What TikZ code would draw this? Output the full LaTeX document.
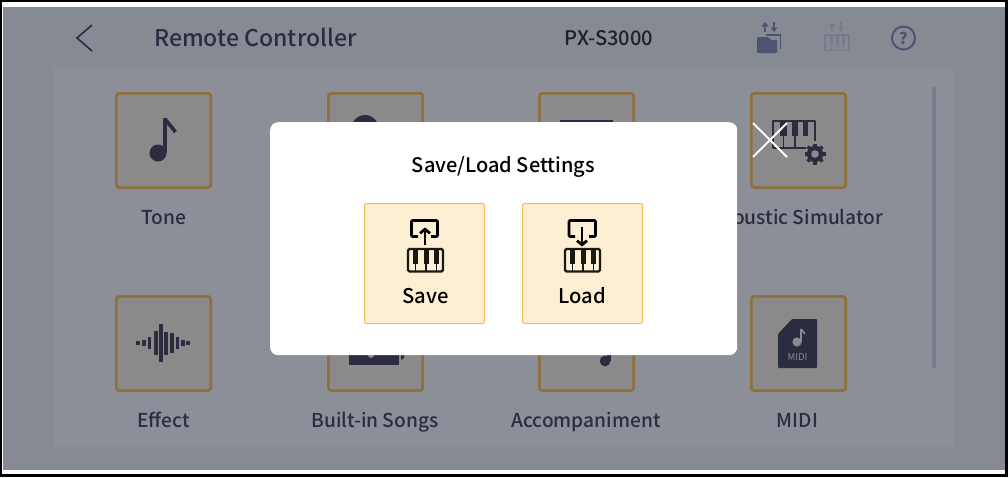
\documentclass[tikz,border=0pt]{standalone}
\usepackage{fontspec}
\setmainfont{Noto Sans CJK JP}
\newfontfamily\medfont{Noto Sans CJK JP Medium}
\definecolor{outerbg}{HTML}{868A93}
\definecolor{panelbg}{HTML}{8C8F98}
\definecolor{tilebg}{HTML}{8B8989}
\definecolor{tileline}{HTML}{8F6F3B}
\definecolor{ink}{HTML}{2B2C40}
\definecolor{hdrink}{HTML}{1F2029}
\definecolor{slate}{HTML}{4E546F}
\definecolor{faded}{HTML}{787C8A}
\definecolor{btnbg}{HTML}{FDEFD3}
\definecolor{btnline}{HTML}{FDB84E}
\usetikzlibrary{arrows.meta}
\tikzset{
  x=1pt,y=-1pt,
  tile/.style={draw=tileline,fill=tilebg,line width=2.6pt,rounded corners=3pt,minimum size=94.4pt,inner sep=0pt,anchor=north west},
  lbl/.style={text=ink,font=\medfont\fontsize{19.15}{21}\selectfont,inner sep=0pt,anchor=base},
  btn/.style={draw=btnline,fill=btnbg,line width=1pt,rounded corners=2pt,minimum size=120pt,inner sep=0pt,anchor=north west},
  btnlbl/.style={text=black,font=\medfont\fontsize{20.2}{22}\selectfont,inner sep=0pt,anchor=base},
  arrowup/.style={-{Triangle[length=4.5pt,width=7pt]}}
}
% piano: #1 left, #2 top, #3 colour
\newcommand{\pianoicon}[3]{%
  \begin{scope}[shift={(#1,#2)}]
    \fill[#3] (5,0) rectangle (10,14.5);
    \fill[#3] (15.5,0) rectangle (20.5,14.5);
    \fill[#3] (26,0) rectangle (31,14.5);
    \draw[#3,line width=1.6pt] (7.5,14) -- (7.5,23);
    \draw[#3,line width=1.6pt] (18,14) -- (18,23);
    \draw[#3,line width=1.6pt] (28.5,14) -- (28.5,23);
    \draw[#3,line width=2.4pt,rounded corners=1.5pt] (0,0) rectangle (35,22.5);
  \end{scope}}
\begin{document}
\begin{tikzpicture}
\useasboundingbox (0,0) rectangle (1008,477);
\fill[black] (0,0) rectangle (1008,477);
\fill[white] (2,2) rectangle (1005,474);
\fill[outerbg] (3,7) rectangle (1005,470);
\fill[panelbg] (54,68) rectangle (953,447);
% header
\coordinate (bk1) at (92,25); \coordinate (bk2) at (77,38); \coordinate (bk3) at (92,51);
\draw[ink,line width=1.6pt] (bk1) -- (bk2) -- (bk3);
\node[anchor=base west,inner sep=0pt,text=ink,font=\medfont\fontsize{23.05}{25}\selectfont] (title) at (154,46.5) {Remote Controller};
\node[anchor=base,inner sep=0pt,text=hdrink,font=\medfont\fontsize{20.1}{22}\selectfont] (model) at (609,45.5) {PX-S3000};
% folder icon
\draw[slate,line width=2pt,arrowup] (765,32) -- (765,22);
\draw[slate,line width=2pt,arrowup] (774,22) -- (774,32);
\fill[slate,rounded corners=1pt] (757,37) -- (768,37) -- (771,40) -- (777,40) -- (777,53) -- (757,53) -- cycle;
\draw[slate,line width=1.6pt] (766,35) -- (780.5,35) -- (780.5,49);
% faded piano
\draw[faded,line width=2pt,arrowup] (832,32) -- (832,22);
\draw[faded,line width=2pt,arrowup] (841,22) -- (841,32);
\begin{scope}[shift={(825,35)}]
  \fill[faded] (5,0) rectangle (8,10);
  \fill[faded] (11,0) rectangle (14,10);
  \fill[faded] (17,0) rectangle (20,10);
  \draw[faded,line width=1pt] (6.5,10) -- (6.5,15) (12.5,10) -- (12.5,15) (18.5,10) -- (18.5,15);
  \draw[faded,line width=1.6pt] (0,0) rectangle (24,15.5);
\end{scope}
% help icon
\node[circle,draw=slate,line width=2pt,minimum size=23pt,inner sep=0pt,text=slate,font=\fontsize{16}{16}\selectfont\bfseries] (help) at (903.5,38) {?};
% scrollbar
\fill[faded,rounded corners=1pt] (932,87) rectangle (936,368);
% tiles
\node[tile] (t1) at (115,92) {};
\node[tile] (t2) at (327,92) {};
\node[tile] (t3) at (538,92) {};
\node[tile] (t4) at (750,92) {};
\node[tile] (t5) at (115,295) {};
\node[tile] (t6) at (327,295) {};
\node[tile] (t7) at (538,295) {};
\node[tile] (t8) at (750,295) {};
% labels
\node[lbl] (l1) at (163.5,224) {Tone};
\node[lbl] (l4) at (797.5,224) {Acoustic Simulator};
\node[lbl] (l5) at (163.5,427) {Effect};
\node[lbl] (l6) at (375,427) {Built-in Songs};
\node[lbl] (l7) at (586,427) {Accompaniment};
\node[lbl] (l8) at (797.5,427) {MIDI};
% tone note
\fill[ink] (158,153) circle (8.5);
\fill[ink] (162.5,118) rectangle (166.5,153);
\draw[ink,line width=3.6pt] (165,119) -- (175.5,132);
% hidden icons
\fill[ink] (365,129) circle (14);
\fill[ink] (560,120) rectangle (613,135);
\fill[ink] (349,345) -- (399,345) -- (399,365) -- (349,365) -- cycle;
\fill[ink] (401,345) -- (405,345) -- (404,358) -- (401,360) -- cycle;
\fill[tilebg] (371,355) circle (3);
\fill[ink] (605,361) circle (5.3);
\fill[ink] (607,345) rectangle (610.5,361);
% waveform
\foreach \xa/\xb/\h in {136/140/1.8,142/146/2.8,147.5/151/6.3,153.5/157.5/12,159/163/19,164/168/11.5,170/174/10,175.5/179/6,181/185/2.8,186/190/1.8}
  \fill[ink] (\xa,343-\h) rectangle (\xb,343+\h);
% piano gear
\begin{scope}[shift={(773,121)}]
  \fill[ink] (7,0) rectangle (14,15);
  \fill[ink] (19,0) rectangle (25,15);
  \fill[ink] (30,0) rectangle (35,15);
  \draw[ink,line width=1.4pt] (10.5,15) -- (10.5,27) (22,15) -- (22,27);
  \draw[ink,line width=2pt,line join=round] (33,27) -- (0,27) -- (0,0) -- (42,0) -- (42,20);
\end{scope}
\foreach \a in {0,45,...,315}
  \draw[ink,line width=3.4pt] (815,154) -- ++(\a:10.5);
\fill[ink] (815,154) circle (8.2);
\fill[tilebg] (815,154) circle (3.8);
% midi file
\fill[ink,rounded corners=1pt] (792,319) -- (817,319) -- (817,368) -- (778,368) -- (778,334) -- cycle;
\fill[tilebg] (797,342) circle (4.6);
\fill[tilebg] (800,329) rectangle (801.8,342);
\draw[tilebg,line width=1.6pt] (801,329) -- (805,334);
\node[inner sep=0pt,text=tilebg,font=\fontsize{9.5}{10}\selectfont] (midilbl) at (797.5,357) {MIDI};
% modal
\node[fill=white,rounded corners=8pt,minimum width=467pt,minimum height=233pt,inner sep=0pt,anchor=north west] (modal) at (270,122) {};
\node[anchor=base,inner sep=0pt,text=black,font=\medfont\fontsize{20}{22}\selectfont] (mtitle) at (503.5,172) {Save/Load Settings};
\node[btn] (save) at (364,203) {};
\node[btn] (load) at (522,203) {};
\node[btnlbl] (savel) at (425.5,303) {Save};
\node[btnlbl] (loadl) at (582,303) {Load};
% save icon
\draw[black,line width=2.6pt,rounded corners=1pt] (418,236.5) -- (411.5,236.5) -- (411.5,220.5) -- (437.5,220.5) -- (437.5,236.5) -- (431,236.5);
\draw[black,line width=2.8pt,-{Straight Barb[length=4pt,width=10pt]}] (425,245) -- (425,227.5);
\pianoicon{408}{249}{black!90!btnbg}
% load icon
\draw[black,line width=2.6pt,rounded corners=1pt] (575,236.5) -- (569,236.5) -- (569,220.5) -- (595.5,220.5) -- (595.5,236.5) -- (589,236.5);
\draw[black,line width=2.8pt,-{Straight Barb[length=4pt,width=10pt]}] (582,227) -- (582,246.5);
\pianoicon{565}{249}{black!90!btnbg}
% close cross
\coordinate (xa) at (753,123); \coordinate (xb) at (787,157);
\coordinate (xc) at (787,123); \coordinate (xd) at (753,157);
\draw[white,line width=2pt] (xa) -- (xb) (xc) -- (xd);
\end{tikzpicture}
\end{document}
